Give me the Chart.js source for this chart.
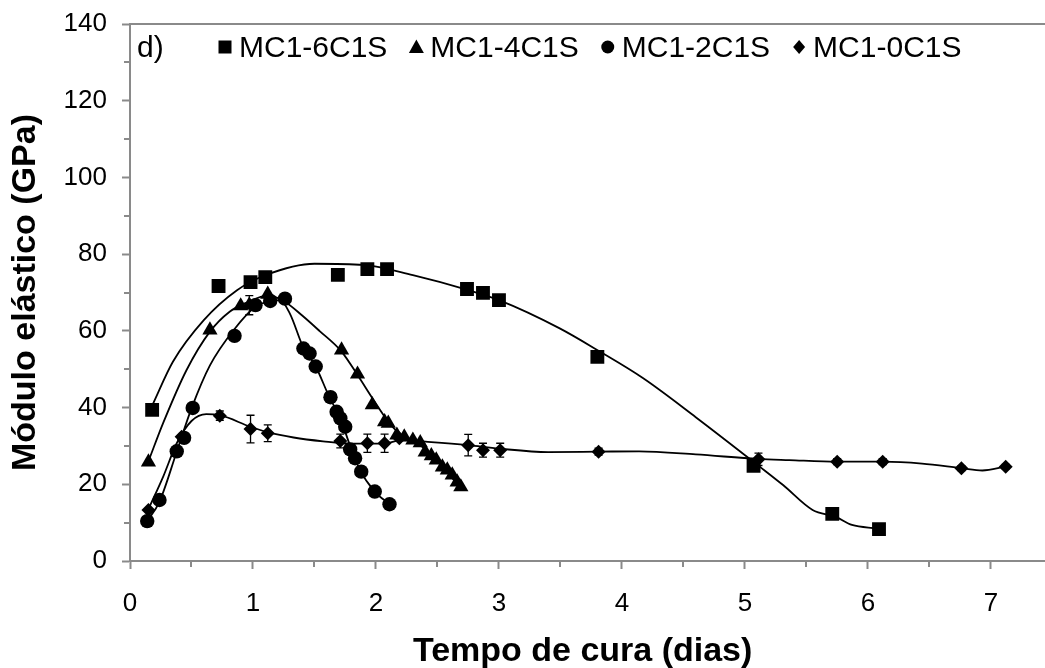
<!DOCTYPE html>
<html><head><meta charset="utf-8">
<script src="https://cdn.jsdelivr.net/npm/chart.js@4/dist/chart.umd.min.js"></script>
<style>html,body{margin:0;padding:0;background:#fff;overflow:hidden}#wrap{width:1045px;height:668px}</style>
</head><body><div id="wrap"><canvas id="c" width="1045" height="668"></canvas></div>
<script>
const seriesNames = ['MC1-6C1S', 'MC1-4C1S', 'MC1-2C1S', 'MC1-0C1S'];
const panelLabel = 'd)';
const xTitle = 'Tempo de cura (dias)';
const yTitle = 'Módulo elástico (GPa)';
const xLabelValues = [0, 1, 2, 3, 4, 5, 6, 7];
const yLabelValues = [0, 20, 40, 60, 80, 100, 120, 140];
const xMax = 7.36;

// MC1-6C1S (squares)
const days6 = [0.18, 0.72, 0.98, 1.10, 1.69, 1.93, 2.09, 2.74, 2.87, 3.00, 3.80, 5.07, 5.71, 6.09];
const mod6  = [39.4, 71.7, 72.7, 74.0, 74.6, 76.1, 76.1, 70.9, 69.9, 68.0, 53.2, 24.8, 12.3, 8.3];
const trend6Days = [0.18, 0.35, 0.60, 0.87, 1.10, 1.50, 1.90, 2.30, 2.73, 3.00, 3.49, 3.82, 4.17, 4.60, 5.12, 5.31, 5.55, 5.74, 5.87, 6.07];
const trend6Mod  = [40.5, 52.0, 62.8, 70.6, 74.5, 77.5, 77.2, 74.5, 70.8, 68.0, 60.7, 54.6, 47.7, 37.5, 24.6, 19.8, 13.3, 11.5, 9.4, 8.5];

// MC1-4C1S (triangles)
const days4 = [0.15, 0.65, 0.90, 0.97, 1.12, 1.72, 1.85, 1.97, 2.07, 2.10, 2.17, 2.23, 2.30, 2.36, 2.40, 2.45, 2.49, 2.54, 2.58, 2.62, 2.66, 2.69];
const mod4  = [25.8, 60.2, 66.5, 66.7, 69.5, 55.0, 48.7, 40.7, 36.3, 35.9, 32.8, 32.3, 31.5, 30.8, 28.4, 27.4, 26.3, 24.5, 23.7, 22.4, 20.6, 19.3];
const err4  = [0, 0, 0, 2.5, 0, 0, 0, 0, 0, 0, 0, 0, 0, 0, 0, 0, 0, 0, 0, 0, 0, 0];
const trend4Days = [0.15, 0.27, 0.46, 0.65, 0.81, 0.95, 1.12, 1.25, 1.40, 1.54, 1.72, 1.85, 1.98, 2.11, 2.22, 2.36, 2.49, 2.68];
const trend4Mod  = [26.0, 36.0, 49.8, 59.8, 65.0, 67.4, 69.2, 67.8, 64.0, 60.0, 54.6, 48.5, 42.0, 35.9, 32.4, 30.2, 26.3, 19.4];

// MC1-2C1S (circles)
const days2 = [0.14, 0.24, 0.38, 0.44, 0.51, 0.85, 1.02, 1.14, 1.26, 1.41, 1.46, 1.51, 1.63, 1.68, 1.71, 1.75, 1.79, 1.83, 1.88, 1.99, 2.11];
const mod2  = [10.4, 15.9, 28.6, 32.1, 39.9, 58.7, 66.7, 67.8, 68.4, 55.4, 54.1, 50.7, 42.7, 38.9, 37.2, 35.0, 29.1, 26.8, 23.3, 18.1, 14.8];
const trend2Days = [0.14, 0.24, 0.38, 0.50, 0.65, 0.85, 1.02, 1.15, 1.22, 1.30, 1.41, 1.51, 1.62, 1.71, 1.79, 1.87, 1.99, 2.11];
const trend2Mod  = [10.4, 15.5, 28.5, 39.8, 51.0, 60.5, 66.3, 67.8, 68.0, 64.5, 55.6, 50.7, 42.8, 37.2, 30.0, 23.7, 18.1, 14.8];

// MC1-0C1S (diamonds, with error bars)
const days0 = [0.15, 0.42, 0.73, 0.98, 1.12, 1.71, 1.93, 2.07, 2.19, 2.75, 2.87, 3.01, 3.81, 5.11, 5.75, 6.12, 6.76, 7.12];
const mod0  = [13.3, 32.4, 37.9, 34.4, 33.3, 31.3, 30.7, 30.7, 32.0, 30.2, 28.9, 28.9, 28.5, 26.5, 25.9, 25.9, 24.2, 24.6];
const err0  = [0, 0, 1.2, 3.6, 2.2, 1.8, 2.4, 2.4, 0, 2.8, 1.8, 1.8, 0.9, 1.6, 0.8, 0.8, 0.6, 0.6];
const trend0Days = [0.15, 0.27, 0.38, 0.50, 0.62, 0.73, 0.98, 1.12, 1.33, 1.57, 1.80, 2.07, 2.20, 2.45, 2.75, 3.00, 3.40, 3.80, 4.14, 4.60, 5.11, 5.36, 5.75, 6.12, 6.44, 6.76, 6.93, 7.12];
const trend0Mod  = [13.5, 22.0, 30.7, 36.5, 38.3, 38.0, 35.0, 33.6, 32.2, 31.2, 30.6, 30.6, 31.5, 31.0, 30.2, 29.3, 28.4, 28.5, 28.6, 27.8, 26.6, 26.3, 25.9, 25.9, 25.4, 24.2, 23.6, 24.6];

const FONT = '"Liberation Sans", Arial, Helvetica, sans-serif';
const AXIS_GRAY = '#8a8a8a';

function pts(xs, ys) { return xs.map((x, i) => ({ x: x, y: ys[i] })); }

function trendSet(xs, ys) {
  return { type: 'line', data: pts(xs, ys), borderColor: '#000', borderWidth: 1.8, pointRadius: 0,
           cubicInterpolationMode: 'monotone', fill: false, order: 2 };
}
function pointSet(label, xs, ys, style, r, errs) {
  return { type: 'scatter', label: label, data: pts(xs, ys), pointStyle: style, pointRadius: r, pointHoverRadius: r,
           backgroundColor: '#000', borderColor: '#000', borderWidth: 0, showLine: false, errors: errs || null, order: 1 };
}

const errorBarPlugin = {
  id: 'errorBars',
  afterDatasetsDraw(chart) {
    const ctx = chart.ctx, ys = chart.scales.y;
    ctx.save();
    ctx.strokeStyle = '#000'; ctx.lineWidth = 1.3;
    chart.data.datasets.forEach((ds, i) => {
      if (!ds.errors) return;
      const meta = chart.getDatasetMeta(i);
      meta.data.forEach((el, j) => {
        const e = ds.errors[j];
        if (!e) return;
        const v = ds.data[j].y;
        const yt = ys.getPixelForValue(v + e), yb = ys.getPixelForValue(v - e);
        ctx.beginPath();
        ctx.moveTo(el.x, yt); ctx.lineTo(el.x, yb);
        ctx.moveTo(el.x - 4, yt); ctx.lineTo(el.x + 4, yt);
        ctx.moveTo(el.x - 4, yb); ctx.lineTo(el.x + 4, yb);
        ctx.stroke();
      });
    });
    ctx.restore();
  }
};

function drawMarker(ctx, style, x, y) {
  ctx.beginPath();
  if (style === 'rect') { ctx.rect(x - 6.5, y - 6.5, 13, 13); }
  else if (style === 'triangle') { ctx.moveTo(x, y - 7.5); ctx.lineTo(x + 7.5, y + 6); ctx.lineTo(x - 7.5, y + 6); ctx.closePath(); }
  else if (style === 'circle') { ctx.arc(x, y, 6.5, 0, Math.PI * 2); }
  else { ctx.moveTo(x, y - 7); ctx.lineTo(x + 6, y); ctx.lineTo(x, y + 7); ctx.lineTo(x - 6, y); ctx.closePath(); }
  ctx.fill();
}

const markerStyles = ['rect', 'triangle', 'circle', 'rectRot'];

const framePlugin = {
  id: 'frameAndLegend',
  afterDraw(chart) {
    const ctx = chart.ctx, ca = chart.chartArea;
    ctx.save();
    ctx.strokeStyle = AXIS_GRAY; ctx.lineWidth = 2;
    ctx.beginPath(); ctx.moveTo(ca.left, ca.top); ctx.lineTo(chart.width, ca.top); ctx.stroke();
    ctx.beginPath(); ctx.moveTo(ca.left, ca.bottom); ctx.lineTo(chart.width, ca.bottom); ctx.stroke();
    const xs = chart.scales.x, ys = chart.scales.y;
    for (let v = 0.5; v <= xs.max; v += 1) {
      const px = Math.round(xs.getPixelForValue(v));
      ctx.beginPath(); ctx.moveTo(px, ca.bottom); ctx.lineTo(px, ca.bottom + 6); ctx.stroke();
    }
    for (let v = 10; v < ys.max; v += 20) {
      const py = Math.round(ys.getPixelForValue(v));
      ctx.beginPath(); ctx.moveTo(ca.left, py); ctx.lineTo(ca.left - 6, py); ctx.stroke();
    }
    ctx.fillStyle = '#000';
    ctx.font = '30px ' + FONT;
    ctx.textBaseline = 'alphabetic';
    const baseY = ca.top + 33;
    ctx.fillText(panelLabel, ca.left + 7, baseY);
    let x = ca.left + 88;
    seriesNames.forEach((name, i) => {
      drawMarker(ctx, markerStyles[i], x + 7, baseY - 10);
      ctx.fillText(name, x + 21, baseY);
      x += 21 + ctx.measureText(name).width + 22;
    });
    ctx.restore();
  }
};

const datasets = [
  trendSet(trend6Days, trend6Mod),
  trendSet(trend4Days, trend4Mod),
  trendSet(trend2Days, trend2Mod),
  trendSet(trend0Days, trend0Mod),
  pointSet(seriesNames[0], days6, mod6, 'rect', 9.8),
  pointSet(seriesNames[1], days4, mod4, 'triangle', 8.8, err4),
  pointSet(seriesNames[2], days2, mod2, 'circle', 7.2),
  pointSet(seriesNames[3], days0, mod0, 'rectRot', 7, err0)
];

new Chart(document.getElementById('c'), {
  type: 'scatter',
  data: { datasets: datasets },
  plugins: [errorBarPlugin, framePlugin],
  options: {
    responsive: false, animation: false, devicePixelRatio: 1,
    layout: { padding: { top: 24, right: 0, left: 0, bottom: 0 } },
    plugins: { legend: { display: false }, tooltip: { enabled: false } },
    scales: {
      x: {
        type: 'linear', min: 0, max: xMax, bounds: 'data',
        border: { color: AXIS_GRAY, width: 2 },
        grid: { drawOnChartArea: false, tickLength: 8, tickWidth: 2, tickColor: AXIS_GRAY },
        afterBuildTicks: (s) => { s.ticks = xLabelValues.map(v => ({ value: v })); s.min = 0; s.max = xMax; },
        afterFit: (s) => { s.height = 107; s.paddingLeft = 0; s.paddingRight = 0; },
        ticks: { autoSkip: false, maxRotation: 0, color: '#000', font: { family: FONT, size: 26 }, padding: 19,
                 callback: (v) => String(v) },
        title: { display: true, text: xTitle, color: '#000', font: { family: FONT, size: 34, weight: 'bold' }, padding: { top: 0, bottom: -4 } }
      },
      y: {
        type: 'linear', min: 0, max: 140,
        border: { color: AXIS_GRAY, width: 2 },
        grid: { drawOnChartArea: false, tickLength: 8, tickWidth: 2, tickColor: AXIS_GRAY },
        afterBuildTicks: (s) => { s.ticks = yLabelValues.map(v => ({ value: v })); },
        afterFit: (s) => { s.width = 130; s.paddingTop = 0; s.paddingBottom = 0; },
        ticks: { color: '#000', font: { family: FONT, size: 26 }, padding: 15, callback: (v) => String(v) },
        title: { display: true, text: yTitle, color: '#000', font: { family: FONT, size: 34, weight: 'bold' }, padding: { top: 5, bottom: 0 } }
      }
    }
  }
});
</script></body></html>
